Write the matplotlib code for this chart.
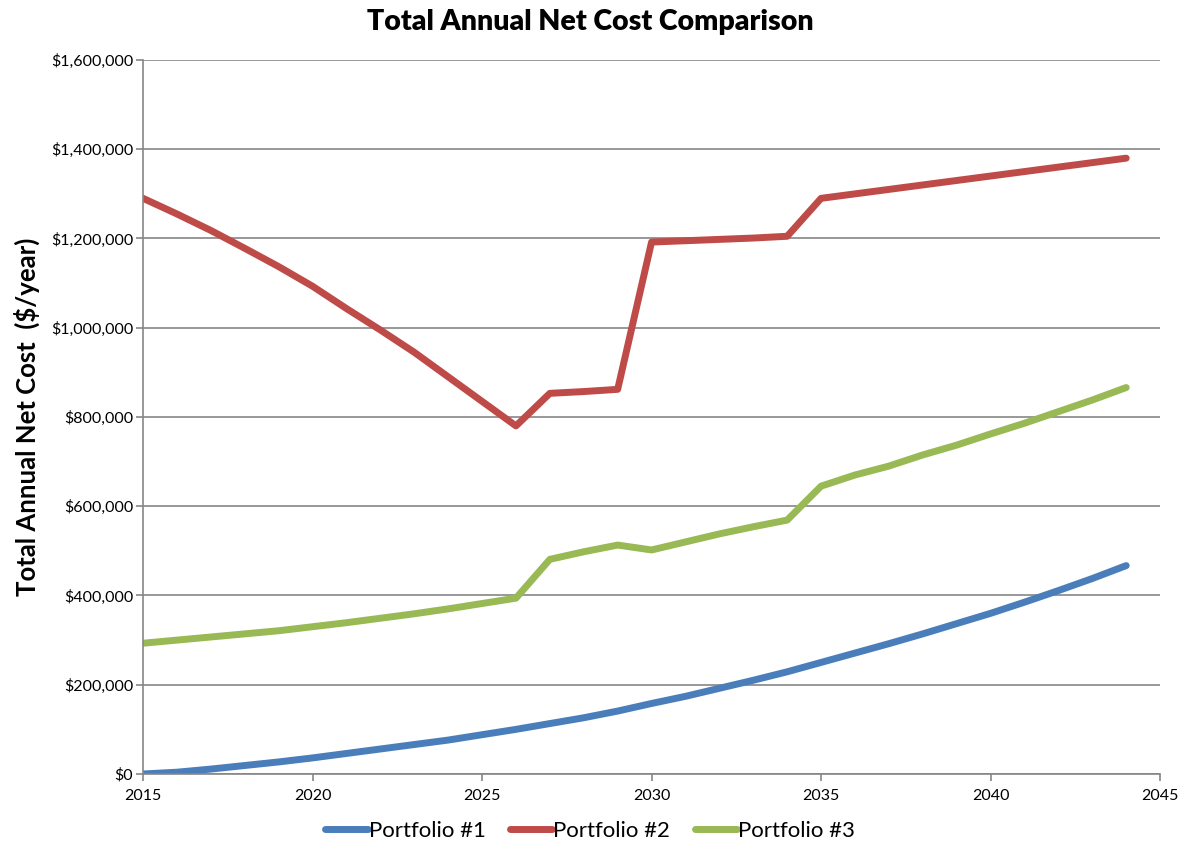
import matplotlib.pyplot as plt
from matplotlib.ticker import FuncFormatter

plt.rcParams['font.family'] = ['Lato', 'DejaVu Sans']

years = list(range(2015, 2045))

portfolio_1 = [0, 4000, 11000, 19000, 27000, 36000, 46000, 56000, 66000, 76000,
               88000, 100000, 113000, 126000, 141000, 158000, 174000, 192000, 210000, 229000,
               250000, 271000, 292000, 314000, 337000, 360000, 385000, 411000, 438000, 467000]

portfolio_2 = [1290000, 1255000, 1218000, 1178000, 1137000, 1093000, 1043000, 995000, 945000, 890000,
               835000, 780000, 853000, 857000, 862000, 1192000, 1195000, 1198000, 1201000, 1205000,
               1290000, 1300000, 1310000, 1320000, 1330000, 1340000, 1350000, 1360000, 1370000, 1380000]

portfolio_3 = [293000, 300000, 307000, 314000, 321000, 330000, 339000, 349000, 359000, 370000,
               382000, 394000, 481000, 498000, 513000, 502000, 520000, 538000, 554000, 569000,
               645000, 670000, 690000, 715000, 737000, 762000, 786000, 812000, 838000, 866000]

series_names = ['Portfolio #1', 'Portfolio #2', 'Portfolio #3']
colors = ['#4A7EBB', '#BE4B48', '#98B954']

fig = plt.figure(figsize=(11.85, 8.51), dpi=100)
ax = fig.add_axes([0.1207, 0.0905, 0.8583, 0.839])

for vals, name, c in zip([portfolio_1, portfolio_2, portfolio_3], series_names, colors):
    ax.plot(years, vals, color=c, linewidth=5.0, label=name, solid_capstyle='round')

ax.set_xlim(2015, 2045)
ax.set_ylim(0, 1600000)
ax.set_xticks(range(2015, 2046, 5))
ax.set_yticks(range(0, 1600001, 200000))
ax.yaxis.set_major_formatter(FuncFormatter(lambda v, p: '${:,.0f}'.format(v)))

ax.grid(axis='y', color='#868686', linewidth=1.2)
ax.set_axisbelow(True)
for s in ['top', 'right']:
    ax.spines[s].set_visible(False)
for s in ['left', 'bottom']:
    ax.spines[s].set_color('#868686')
    ax.spines[s].set_linewidth(1.2)
ax.tick_params(axis='both', colors='#868686', labelcolor='black', labelsize=11.5, length=5, width=1.2)
ax.tick_params(axis='x', pad=6)
ax.tick_params(axis='y', pad=2)

fig.suptitle('Total Annual Net Cost Comparison', x=0.498, y=0.99, fontsize=20.5, fontweight='heavy')
ax.set_ylabel('Total Annual Net Cost  ($/year)', fontsize=18.5, fontweight='bold', labelpad=8)

fig.legend(loc='center', bbox_to_anchor=(0.498, 0.024), ncol=3, frameon=False,
           fontsize=16, handlelength=1.9, handletextpad=0.05, columnspacing=1.1)

fig.savefig('out.png', dpi=100)
